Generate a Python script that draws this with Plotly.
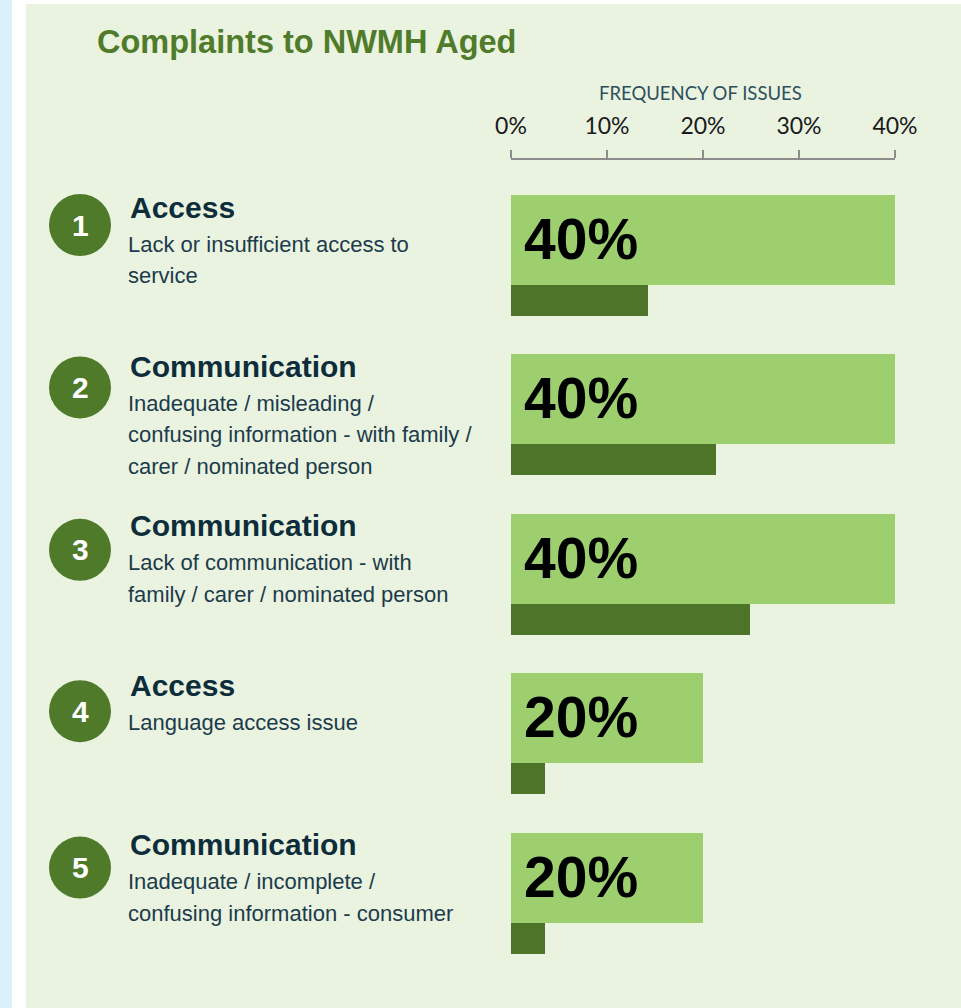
import plotly.graph_objects as go

# data
ranks = [1, 2, 3, 4, 5]
categories = ["Access", "Communication", "Communication", "Access", "Communication"]
descriptions = [
    ["Lack or insufficient access to", "service"],
    ["Inadequate / misleading /", "confusing information - with family /", "carer / nominated person"],
    ["Lack of communication - with", "family / carer / nominated person"],
    ["Language access issue"],
    ["Inadequate / incomplete /", "confusing information - consumer"],
]
nwmh_pct = [40, 40, 40, 20, 20]
comparison_pct = [14.3, 21.4, 24.9, 3.5, 3.5]
tick_vals = [0, 10, 20, 30, 40]
tick_text = ["0%", "10%", "20%", "30%", "40%"]

W, H = 961, 1008
ROW_PX = 159.4      # pixel distance between rows
TOP_PX = 240        # pixel centre of first bar
LIGHT = "#9DCF6E"
DARK = "#4E7429"
PANEL = "#EAF3E0"
NAVY = "#0E2D3B"

rows = list(range(len(ranks)))
y_top = -TOP_PX / ROW_PX
y_bot = y_top + H / ROW_PX

fig = go.Figure()
fig.add_trace(go.Bar(
    y=rows, x=nwmh_pct, orientation="h",
    width=90 / ROW_PX, offset=-45 / ROW_PX,
    marker=dict(color=LIGHT, line_width=0),
    hoverinfo="skip", showlegend=False,
))
fig.add_trace(go.Bar(
    y=rows, x=comparison_pct, orientation="h",
    width=31 / ROW_PX, offset=45 / ROW_PX,
    marker=dict(color=DARK, line_width=0),
    hoverinfo="skip", showlegend=False,
))

shapes = [
    dict(type="rect", xref="paper", yref="paper", x0=0, x1=12 / W, y0=0, y1=1,
         fillcolor="#DBF1F9", line_width=0, layer="below"),
    dict(type="rect", xref="paper", yref="paper", x0=26 / W, x1=1, y0=0, y1=1 - 4 / H,
         fillcolor=PANEL, line_width=0, layer="below"),
]
annotations = [
    dict(text="<b>Complaints to NWMH Aged</b>", xref="paper", yref="paper",
         x=95 / W, y=1 - 42 / H, xanchor="left", yanchor="middle", showarrow=False,
         font=dict(family="Liberation Sans, Arial", size=32.5, color="#4F7B2A")),
    dict(text="FREQUENCY OF ISSUES", xref="paper", yref="paper",
         x=700 / W, y=1 - 93 / H, xanchor="center", yanchor="middle", showarrow=False,
         font=dict(family="Lato", size=18.5, color="#2E4F5C")),
]

circle_shift = [15, 12, 9, 7, 10]
for i in rows:
    shapes.append(dict(type="circle", xref="paper", yref="y",
                       xsizemode="pixel", ysizemode="pixel",
                       xanchor=80 / W, yanchor=i,
                       x0=-31, x1=31, y0=-31 + circle_shift[i], y1=31 + circle_shift[i],
                       fillcolor="#4E7A2A", line_width=0))
    annotations.append(dict(text=f"<b>{ranks[i]}</b>", xref="paper", yref="y",
                            x=80 / W, y=i, yshift=circle_shift[i], xanchor="center",
                            yanchor="middle", showarrow=False,
                            font=dict(family="Liberation Sans, Arial", size=30, color="white")))
    annotations.append(dict(text=f"<b>{categories[i]}</b>", xref="paper", yref="y",
                            x=128 / W, y=i, yshift=33, xanchor="left", yanchor="middle",
                            showarrow=False,
                            font=dict(family="Liberation Sans, Arial", size=30, color=NAVY)))
    for k, line in enumerate(descriptions[i]):
        annotations.append(dict(text=line, xref="paper", yref="y",
                                x=126 / W, y=i, yshift=-4 - 31.5 * k, xanchor="left",
                                yanchor="middle", showarrow=False,
                                font=dict(family="Liberation Sans, Arial", size=22,
                                          color="#1C3B4B")))
    annotations.append(dict(text=f"<b>{nwmh_pct[i]}%</b>", xref="x", yref="y",
                            x=0, y=i, xshift=11, yshift=1, xanchor="left", yanchor="middle",
                            showarrow=False,
                            font=dict(family="Liberation Sans, Arial", size=57, color="black")))

fig.update_layout(
    width=W, height=H,
    margin=dict(l=0, r=0, t=0, b=0, autoexpand=False),
    paper_bgcolor="white", plot_bgcolor="rgba(0,0,0,0)",
    barmode="overlay", bargap=0,
    shapes=shapes, annotations=annotations,
    xaxis=dict(
        domain=[511 / W, 895 / W], range=[0, 40],
        side="top", anchor="free", position=1 - 159 / H,
        tickvals=tick_vals, ticktext=tick_text,
        ticks="outside", ticklen=8, tickwidth=1.5, tickcolor="#8C8C8C",
        showline=True, linecolor="#8C8C8C", linewidth=1.5,
        showgrid=False, zeroline=False, ticklabelstandoff=7, automargin=False,
        tickfont=dict(family="Lato", size=23, color="#1A1A1A"),
    ),
    yaxis=dict(range=[y_bot, y_top], visible=False, showgrid=False, zeroline=False,
               automargin=False),
)

fig.write_html(
    "out.html",
    config={"responsive": False, "displayModeBar": False},
    post_script="document.body.style.margin='0';document.body.style.overflow='hidden';",
)
